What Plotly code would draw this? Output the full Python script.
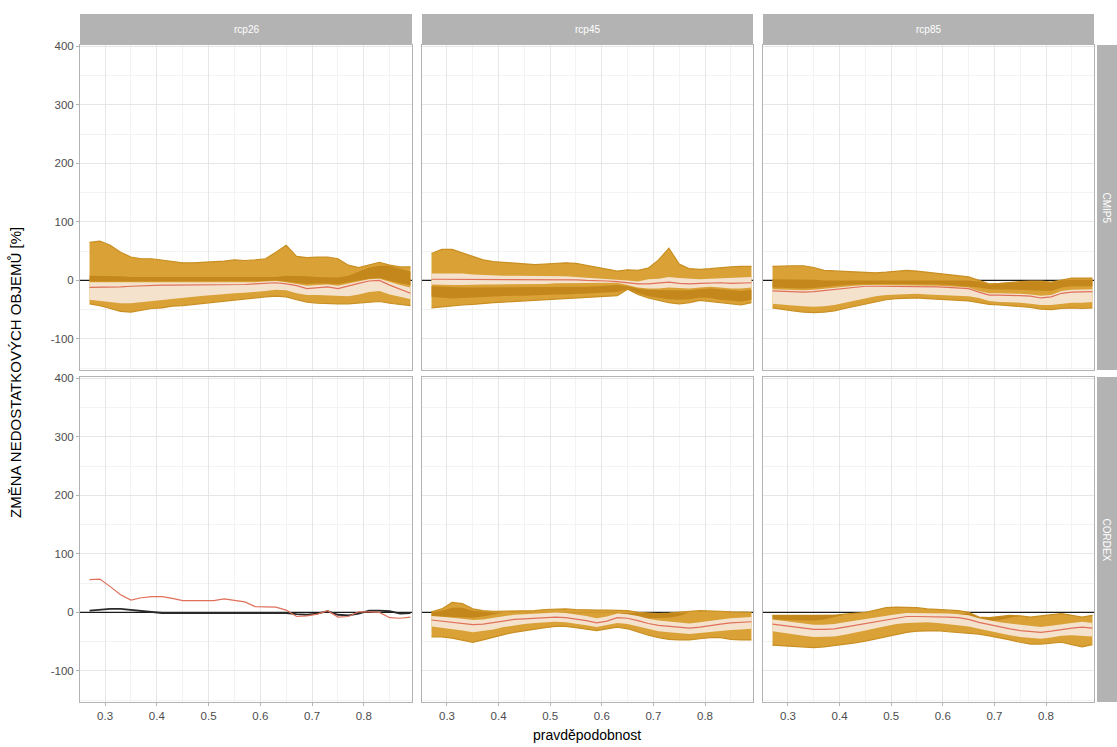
import plotly.graph_objects as go

# ---------------- data ----------------
PROB = [0.27, 0.29, 0.31, 0.33, 0.35, 0.37, 0.39, 0.41, 0.43, 0.45, 0.47, 0.49, 0.51, 0.53, 0.55, 0.57,
        0.59, 0.61, 0.63, 0.65, 0.67, 0.69, 0.71, 0.73, 0.75, 0.77, 0.79, 0.81, 0.83, 0.85, 0.87, 0.89]

SCENARIOS = ["rcp26", "rcp45", "rcp85"]
ENSEMBLES = ["CMIP5", "CORDEX"]
Y_TICKS = [-100, 0, 100, 200, 300, 400]
X_TICKS = [0.3, 0.4, 0.5, 0.6, 0.7, 0.8]
X_RANGE = [0.2516, 0.893]
Y_RANGE = [-153, 402]
ZERO_LEVEL = 0

# CMIP5 rcp26
CMIP5_26_MAX = [65, 67, 60, 48, 40, 37, 37, 35, 33, 30, 30, 31, 31, 33, 35, 34, 35, 37, 48, 60, 41, 39, 40, 40, 37, 26, 22, 26, 31, 26, 23, 23]
CMIP5_26_MIN = [-40, -43, -48, -53, -54, -51, -48, -47, -44, -43, -41, -39, -37, -35, -33, -31, -30, -28, -27, -28, -33, -37, -39, -40, -40, -40, -39, -37, -36, -39, -41, -43]
CMIP5_26_DHI = [8, 8, 8, 7, 6, 6, 6, 6, 6, 6, 6, 6, 6, 6, 6, 6, 6, 6, 6, 8, 8, 7, 6, 5, 5, 8, 15, 22, 25, 25, 20, 15]
CMIP5_26_DLO = [-2, -2, -2, -2, -2, -2, -2, -2, -2, -2, -2, -2, -2, -2, -2, -2, -2, -1, 0, -2, -4, -6, -5, -5, -6, -3, 0, 3, 4, -1, -5, -8]
CMIP5_26_Q75 = [-3, -3, -3, -3, -3, -4, -4, -4, -4, -4, -4, -4, -4, -4, -4, -4, -3, -2, -1, -3, -6, -9, -8, -7, -9, -5, -2, 2, 3, -3, -8, -12]
CMIP5_26_Q25 = [-33, -35, -37, -39, -39, -37, -35, -33, -31, -30, -28, -26, -25, -23, -22, -21, -20, -18, -16, -17, -22, -25, -25, -26, -27, -27, -24, -20, -18, -24, -28, -32]
CMIP5_26_MED = [-12, -12, -12, -11, -10, -9, -9, -8, -8, -8, -8, -8, -7, -7, -7, -7, -6, -5, -4, -6, -9, -14, -12, -11, -14, -9, -5, -1, 0, -8, -15, -22]

# CMIP5 rcp45
CMIP5_45_MAX = [46, 53, 53, 47, 40, 35, 32, 31, 30, 28, 27, 28, 29, 30, 29, 26, 22, 19, 16, 18, 17, 21, 35, 55, 28, 20, 19, 20, 22, 23, 24, 24]
CMIP5_45_MIN = [-47, -45, -44, -42, -41, -39, -38, -37, -36, -35, -34, -33, -32, -31, -30, -29, -28, -27, -26, -15, -24, -30, -34, -38, -40, -38, -34, -36, -39, -41, -42, -38]
CMIP5_45_DHI = [-10, -11, -12, -12, -12, -12, -12, -12, -12, -12, -12, -12, -12, -12, -12, -11, -10, -9, -8, -10, -14, -16, -17, -17, -17, -17, -15, -14, -15, -17, -18, -16]
CMIP5_45_DLO = [-28, -30, -31, -30, -29, -28, -27, -27, -26, -26, -25, -25, -24, -24, -23, -22, -22, -21, -20, -15, -22, -27, -30, -32, -33, -32, -29, -30, -33, -35, -36, -33]
CMIP5_45_Q75 = [12, 12, 13, 12, 10, 9, 8, 8, 8, 8, 8, 7, 7, 7, 6, 5, 4, 3, 2, 0, -2, 2, 3, 6, 4, 3, 2, 3, 4, 5, 6, 6]
CMIP5_45_Q25 = [-7, -8, -8, -8, -7, -7, -7, -7, -6, -6, -6, -6, -5, -5, -5, -5, -5, -4, -4, -8, -12, -14, -14, -12, -13, -14, -12, -11, -12, -14, -14, -12]
CMIP5_45_MED = [2, 2, 2, 2, 2, 2, 1, 1, 1, 1, 1, 1, 1, 1, 1, 0, 0, -1, -2, -4, -6, -6, -5, -3, -5, -6, -5, -4, -4, -5, -5, -4]

# CMIP5 rcp85
CMIP5_85_MAX = [24, 25, 25, 25, 22, 17, 16, 16, 15, 14, 13, 14, 16, 17, 16, 14, 11, 10, 8, 6, 0, -6, -5, -3, -2, -1, -1, -3, 1, 4, 4, 4]
CMIP5_85_MIN = [-47, -50, -52, -54, -55, -54, -52, -48, -44, -40, -36, -33, -31, -30, -30, -31, -32, -32, -33, -35, -38, -41, -42, -43, -44, -46, -49, -50, -48, -47, -48, -47]
CMIP5_85_DHI = [2, 2, 2, 2, 1, 0, 0, 0, 0, 0, 0, 0, 0, 0, 0, 0, 0, 0, 0, 0, -2, -7, -6, -4, -3, -2, -2, -4, 0, 1, 1, 1]
CMIP5_85_DLO = [-12, -13, -14, -14, -13, -11, -10, -8, -7, -6, -6, -6, -6, -6, -6, -7, -7, -8, -9, -10, -12, -15, -15, -15, -16, -17, -18, -18, -12, -10, -10, -10]
CMIP5_85_Q75 = [-15, -16, -17, -17, -16, -14, -12, -10, -9, -8, -8, -8, -8, -8, -8, -9, -9, -10, -11, -12, -18, -22, -22, -22, -23, -24, -26, -25, -18, -16, -15, -15]
CMIP5_85_Q25 = [-40, -42, -43, -44, -45, -44, -42, -38, -34, -30, -27, -25, -24, -23, -23, -24, -25, -25, -26, -27, -30, -35, -37, -37, -38, -40, -42, -42, -40, -38, -38, -37]
CMIP5_85_MED = [-18, -19, -20, -20, -19, -17, -15, -13, -11, -10, -10, -10, -10, -10, -10, -11, -11, -12, -13, -14, -20, -25, -25, -25, -26, -27, -30, -28, -22, -20, -19, -19]

# CORDEX rcp26 (single lines only)
CORDEX_26_MED = [56, 57, 44, 30, 21, 25, 27, 27, 24, 20, 20, 20, 20, 23, 21, 18, 10, 10, 9, 4, -7, -6, -3, 3, -8, -7, 1, 1, 0, -9, -10, -8]
CORDEX_26_REF = [3, 5, 6, 6, 4, 2, 0, -1, -1, -1, -1, -1, -1, -1, -1, -2, -2, -2, -2, -1, -3, -4, -2, 2, -4, -5, -2, 3, 3, 2, -2, -1]

# CORDEX rcp45
CORDEX_45_MAX = [1, 6, 17, 15, 6, 3, 2, 2, 2, 2, 3, 5, 6, 6, 5, 4, 4, 4, 4, 3, 0, -1, -2, -1, 1, 2, 3, 3, 2, 1, 0, 0]
CORDEX_45_MIN = [-42, -42, -44, -48, -51, -47, -42, -38, -34, -31, -28, -26, -24, -24, -26, -28, -31, -28, -25, -28, -34, -39, -43, -46, -47, -47, -45, -43, -43, -46, -47, -47]
CORDEX_45_DHI = [0, 3, 8, 8, 3, 1, 0, 0, 0, 0, 0, 0, 0, 0, 0, 0, 0, 0, 0, 0, -1, -1, -2, -1, 0, 0, 0, 0, 0, 0, 0, 0]
CORDEX_45_DLO = [-6, -7, -8, -9, -9, -7, -3, 0, 0, 0, 0, 0, 0, 0, 0, 0, 0, 0, 0, -5, -9, -10, -10, -9, -6, 0, 0, 0, 0, 0, 0, 0]
CORDEX_45_Q75 = [-6, -7, -9, -11, -13, -12, -9, -6, -4, -3, -2, -1, 0, -1, -3, -6, -10, -7, -2, -3, -6, -11, -14, -16, -18, -19, -17, -14, -12, -10, -9, -8]
CORDEX_45_Q25 = [-24, -26, -28, -31, -34, -32, -29, -25, -22, -20, -18, -17, -16, -17, -19, -22, -25, -22, -18, -20, -24, -29, -32, -34, -36, -37, -35, -33, -31, -30, -29, -28]
CORDEX_45_MED = [-13, -15, -17, -19, -21, -20, -17, -14, -12, -11, -10, -9, -8, -9, -11, -14, -18, -15, -9, -10, -14, -19, -22, -24, -26, -27, -25, -22, -20, -18, -17, -16]

# CORDEX rcp85
CORDEX_85_MAX = [-5, -5, -5, -5, -5, -5, -5, -3, -1, 0, 4, 8, 9, 9, 8, 6, 5, 4, 3, 0, -8, -9, -7, -5, -6, -8, -6, -4, -2, -5, -8, -5]
CORDEX_85_MIN = [-56, -57, -58, -59, -60, -59, -57, -55, -52, -49, -45, -41, -37, -34, -32, -31, -31, -33, -34, -35, -37, -40, -43, -47, -51, -54, -54, -52, -51, -55, -59, -55]
CORDEX_85_DHI = [-5, -5, -5, -5, -5, -5, -5, -4, -3, -3, -3, -3, -3, -3, -3, -3, -3, -3, -3, -1, -8, -9, -7, -5, -6, -8, -8, -8, -8, -8, -8, -8]
CORDEX_85_DLO = [-12, -13, -14, -14, -14, -12, -8, -4, -3, -3, -3, -3, -3, -3, -3, -3, -3, -3, -3, -8, -14, -15, -13, -9, -6, -8, -8, -8, -8, -8, -8, -8]
CORDEX_85_Q75 = [-12, -14, -17, -19, -21, -21, -20, -17, -14, -11, -8, -5, -3, -1, -1, -1, -1, -2, -3, -5, -10, -14, -17, -19, -21, -24, -25, -23, -20, -18, -16, -18]
CORDEX_85_Q25 = [-32, -35, -38, -40, -42, -42, -41, -38, -35, -31, -27, -23, -20, -18, -17, -17, -18, -20, -21, -24, -28, -32, -36, -39, -42, -44, -45, -43, -40, -39, -40, -41]
CORDEX_85_MED = [-20, -22, -25, -27, -29, -29, -28, -25, -22, -19, -15, -12, -9, -7, -7, -7, -7, -8, -9, -12, -17, -21, -25, -28, -31, -33, -34, -32, -29, -27, -25, -27]

PANELS = [
    dict(row=0, col=0, mx=CMIP5_26_MAX, mn=CMIP5_26_MIN, dhi=CMIP5_26_DHI, dlo=CMIP5_26_DLO, q75=CMIP5_26_Q75, q25=CMIP5_26_Q25, med=CMIP5_26_MED, ref=None),
    dict(row=0, col=1, mx=CMIP5_45_MAX, mn=CMIP5_45_MIN, dhi=CMIP5_45_DHI, dlo=CMIP5_45_DLO, q75=CMIP5_45_Q75, q25=CMIP5_45_Q25, med=CMIP5_45_MED, ref=None),
    dict(row=0, col=2, mx=CMIP5_85_MAX, mn=CMIP5_85_MIN, dhi=CMIP5_85_DHI, dlo=CMIP5_85_DLO, q75=CMIP5_85_Q75, q25=CMIP5_85_Q25, med=CMIP5_85_MED, ref=None),
    dict(row=1, col=0, mx=None, mn=None, dhi=None, dlo=None, q75=None, q25=None, med=CORDEX_26_MED, ref=CORDEX_26_REF),
    dict(row=1, col=1, mx=CORDEX_45_MAX, mn=CORDEX_45_MIN, dhi=CORDEX_45_DHI, dlo=CORDEX_45_DLO, q75=CORDEX_45_Q75, q25=CORDEX_45_Q25, med=CORDEX_45_MED, ref=None),
    dict(row=1, col=2, mx=CORDEX_85_MAX, mn=CORDEX_85_MIN, dhi=CORDEX_85_DHI, dlo=CORDEX_85_DLO, q75=CORDEX_85_Q75, q25=CORDEX_85_Q25, med=CORDEX_85_MED, ref=None),
]

# ---------------- layout geometry (pixels) ----------------
W, H = 1117, 747
COL_PX = [(80, 412), (422, 753), (763, 1094)]
ROW_PX = [(45, 370), (377, 702)]
STRIP_TOP = (14, 45)
STRIP_RIGHT = (1097, 1117)

GOLD = "#D9A136"
GOLD_EDGE = "#C98F22"
DARK = "#C4871C"
LIGHT = "#F4E2CC"
RED = "#E0705A"
FONT = "Liberation Sans, Arial, sans-serif"


def fx(p):
    return p / W


def fy(p):
    return 1 - p / H


fig = go.Figure()
layout = {}
shapes = []
annotations = []

for i, pnl in enumerate(PANELS):
    n = i + 1
    r, c = pnl["row"], pnl["col"]
    xa = "x" if n == 1 else f"x{n}"
    ya = "y" if n == 1 else f"y{n}"
    xk = "xaxis" if n == 1 else f"xaxis{n}"
    yk = "yaxis" if n == 1 else f"yaxis{n}"
    x0, x1 = COL_PX[c]
    y0, y1 = ROW_PX[r]
    layout[xk] = dict(
        domain=[fx(x0), fx(x1)], anchor=ya, range=X_RANGE,
        tickmode="array", tickvals=X_TICKS, ticktext=[f"{v:.1f}" for v in X_TICKS],
        showticklabels=(r == 1), ticks="outside" if r == 1 else "", ticklen=3,
        tickcolor="#B3B3B3", tickfont=dict(size=11.5, color="#4D4D4D", family=FONT),
        showgrid=True, gridcolor="#E6E6E6", gridwidth=1,
        minor=dict(tick0=0.25, dtick=0.05, showgrid=True, gridcolor="#F3F3F3", gridwidth=0.6, ticks=""),
        showline=True, mirror=True, linecolor="#B3B3B3", linewidth=1, zeroline=False,
    )
    layout[yk] = dict(
        domain=[fy(y1), fy(y0)], anchor=xa, range=Y_RANGE,
        tickmode="array", tickvals=Y_TICKS, ticktext=[str(v) for v in Y_TICKS],
        showticklabels=(c == 0), ticks="outside" if c == 0 else "", ticklen=3,
        tickcolor="#B3B3B3", tickfont=dict(size=11.5, color="#4D4D4D", family=FONT),
        showgrid=True, gridcolor="#E6E6E6", gridwidth=1,
        minor=dict(tick0=0, dtick=50, showgrid=True, gridcolor="#F3F3F3", gridwidth=0.6, ticks=""),
        showline=True, mirror=True, linecolor="#B3B3B3", linewidth=1, zeroline=False,
    )

    # zero reference line (beneath the bands)
    fig.add_trace(go.Scatter(x=X_RANGE, y=[ZERO_LEVEL, ZERO_LEVEL], mode="lines",
                             line=dict(color="#1A1A1A", width=1.3),
                             xaxis=xa, yaxis=ya, showlegend=False, hoverinfo="skip"))

    def band(lo, hi, fill, edge=None, width=0):
        lc = edge if edge else fill
        fig.add_trace(go.Scatter(x=PROB, y=lo, mode="lines", line=dict(color=lc, width=width),
                                 xaxis=xa, yaxis=ya, showlegend=False, hoverinfo="skip"))
        fig.add_trace(go.Scatter(x=PROB, y=hi, mode="lines", line=dict(color=lc, width=width),
                                 fill="tonexty", fillcolor=fill,
                                 xaxis=xa, yaxis=ya, showlegend=False, hoverinfo="skip"))

    if pnl["mx"] is not None:
        band(pnl["mn"], pnl["mx"], GOLD, GOLD_EDGE, 1.2)
        band(pnl["dlo"], pnl["dhi"], DARK)
        band(pnl["q25"], pnl["q75"], LIGHT)
    if pnl["ref"] is not None:
        fig.add_trace(go.Scatter(x=PROB, y=pnl["ref"], mode="lines", line=dict(color="#2A2A2A", width=1.8),
                                 xaxis=xa, yaxis=ya, showlegend=False, hoverinfo="skip"))
    fig.add_trace(go.Scatter(x=PROB, y=pnl["med"], mode="lines", line=dict(color=RED, width=1.2),
                             xaxis=xa, yaxis=ya, showlegend=False, hoverinfo="skip"))

# top strips
for c, name in enumerate(SCENARIOS):
    x0, x1 = COL_PX[c]
    shapes.append(dict(type="rect", xref="paper", yref="paper", x0=fx(x0), x1=fx(x1),
                       y0=fy(STRIP_TOP[1]), y1=fy(STRIP_TOP[0]), fillcolor="#B3B3B3", line=dict(width=0)))
    annotations.append(dict(text=name, xref="paper", yref="paper", x=fx((x0 + x1) / 2),
                            y=fy((STRIP_TOP[0] + STRIP_TOP[1]) / 2), showarrow=False,
                            font=dict(size=10, color="white", family=FONT), xanchor="center", yanchor="middle"))

# right strips
for r, name in enumerate(ENSEMBLES):
    y0, y1 = ROW_PX[r]
    shapes.append(dict(type="rect", xref="paper", yref="paper", x0=fx(STRIP_RIGHT[0]), x1=fx(STRIP_RIGHT[1]),
                       y0=fy(y1), y1=fy(y0), fillcolor="#B3B3B3", line=dict(width=0)))
    annotations.append(dict(text=name, xref="paper", yref="paper", x=fx(1106), y=fy((y0 + y1) / 2),
                            showarrow=False, textangle=90,
                            font=dict(size=10, color="white", family=FONT), xanchor="center", yanchor="middle"))

# axis titles
annotations.append(dict(text="ZMĚNA NEDOSTATKOVÝCH OBJEMŮ [%]", xref="paper", yref="paper",
                        x=fx(15), y=fy(373), showarrow=False, textangle=-90,
                        font=dict(size=15, color="black", family=FONT), xanchor="center", yanchor="middle"))
annotations.append(dict(text="pravděpodobnost", xref="paper", yref="paper",
                        x=fx(587), y=fy(735), showarrow=False,
                        font=dict(size=14, color="black", family=FONT), xanchor="center", yanchor="middle"))

fig.update_layout(
    width=W, height=H, margin=dict(l=0, r=0, t=0, b=0, autoexpand=False),
    paper_bgcolor="white", plot_bgcolor="white", showlegend=False,
    shapes=shapes, annotations=annotations, font=dict(family=FONT),
    **layout,
)

fig.write_html("out.html", config={"displayModeBar": False},
               post_script="document.body.style.margin='0';document.body.style.overflow='hidden';")
